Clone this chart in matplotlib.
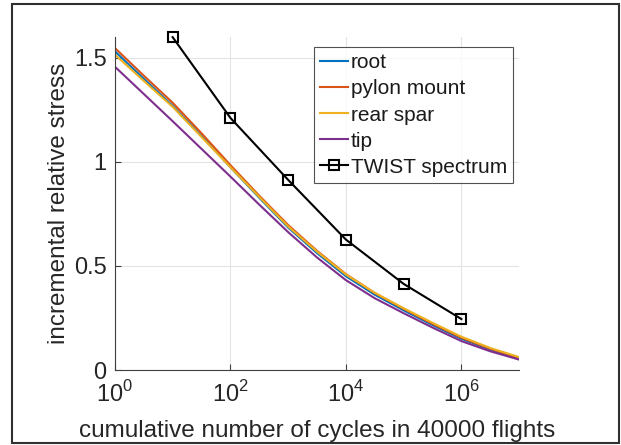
import numpy as np
import matplotlib
matplotlib.use('Agg')
import matplotlib.pyplot as plt
from matplotlib.patches import Rectangle
from matplotlib.ticker import NullLocator

plt.rcParams['font.family'] = ['Liberation Sans', 'DejaVu Sans']
plt.rcParams['mathtext.fontset'] = 'custom'
plt.rcParams['mathtext.rm'] = 'Liberation Sans'

# cycle counts, half-decade steps 10^0 ... 10^7
exps = [0, 0.5, 1, 1.5, 2, 2.5, 3, 3.5, 4, 4.5, 5, 5.5, 6, 6.5, 7]
cycles = [10 ** e for e in exps]

root = [1.532, 1.40, 1.27, 1.125, 0.975, 0.828, 0.685, 0.562, 0.451, 0.362,
        0.287, 0.216, 0.150, 0.098, 0.055]
pylon_mount = [1.548, 1.415, 1.285, 1.138, 0.985, 0.838, 0.697, 0.573, 0.461,
               0.370, 0.294, 0.222, 0.155, 0.102, 0.058]
rear_spar = [1.516, 1.39, 1.265, 1.12, 0.975, 0.832, 0.690, 0.569, 0.459,
             0.371, 0.297, 0.227, 0.160, 0.106, 0.062]
tip = [1.458, 1.327, 1.196, 1.063, 0.93, 0.795, 0.663, 0.541, 0.432, 0.345,
       0.273, 0.204, 0.139, 0.090, 0.050]

twist_cycles = [1e1, 1e2, 1e3, 1e4, 1e5, 1e6]
twist = [1.6, 1.212, 0.914, 0.627, 0.414, 0.245]

x_ticks = [1e0, 1e2, 1e4, 1e6]
x_ticklabels = [r'$10^{0}$', r'$10^{2}$', r'$10^{4}$', r'$10^{6}$']
y_ticks = [0, 0.5, 1, 1.5]
y_ticklabels = ['0', '0.5', '1', '1.5']

fig = plt.figure(figsize=(6.21, 4.45), dpi=100)
ax = fig.add_axes([0.185, 0.1685, 0.651, 0.748])

ax.plot(cycles, root, color='#0072BD', lw=1.5, label='root')
ax.plot(cycles, pylon_mount, color='#D95319', lw=1.5, label='pylon mount')
ax.plot(cycles, rear_spar, color='#EDB120', lw=1.5, label='rear spar')
ax.plot(cycles, tip, color='#7E2F8E', lw=1.5, label='tip')
ax.plot(twist_cycles, twist, color='black', lw=1.5, marker='s', ms=6.5,
        mfc='none', mew=1.5, label='TWIST spectrum', clip_on=False)

ax.set_xscale('log')
ax.set_xlim(1, 1e7)
ax.set_ylim(0, 1.6)
ax.set_xticks(x_ticks)
ax.set_xticklabels(x_ticklabels)
ax.xaxis.set_minor_locator(NullLocator())
ax.set_yticks(y_ticks)
ax.set_yticklabels(y_ticklabels)

ax.grid(True, color='#e3e3e3', lw=0.8)
ax.set_axisbelow(True)
for s in ['top', 'right']:
    ax.spines[s].set_visible(False)
for s in ['left', 'bottom']:
    ax.spines[s].set_color('#404040')
    ax.spines[s].set_linewidth(0.8)
ax.tick_params(direction='in', length=4, width=0.8, color='#404040',
               labelsize=17, labelcolor='#262626')
ax.tick_params(axis='y', pad=6)
ax.tick_params(axis='x', pad=8)

ax.set_xlabel('cumulative number of cycles in 40000 flights', fontsize=17.5,
              color='#262626', labelpad=9)
ax.set_ylabel('incremental relative stress', fontsize=17.5, color='#262626',
              labelpad=3)

leg = ax.legend(loc='upper right', bbox_to_anchor=(0.985, 0.97), fontsize=15,
                frameon=True, fancybox=False, handlelength=1.35,
                handletextpad=0.12, labelspacing=0.34, borderpad=0.3,
                borderaxespad=0)
leg.get_frame().set_edgecolor('#262626')
leg.get_frame().set_linewidth(0.8)
for t in leg.get_texts():
    t.set_color('#1a1a1a')

# outer frame around the whole figure
fig.patches.append(Rectangle((12 / 621, 2 / 445), 607 / 621, 439 / 445,
                             transform=fig.transFigure, fill=False,
                             edgecolor='#303030', lw=1.5))

fig.savefig('out.png', dpi=100)
